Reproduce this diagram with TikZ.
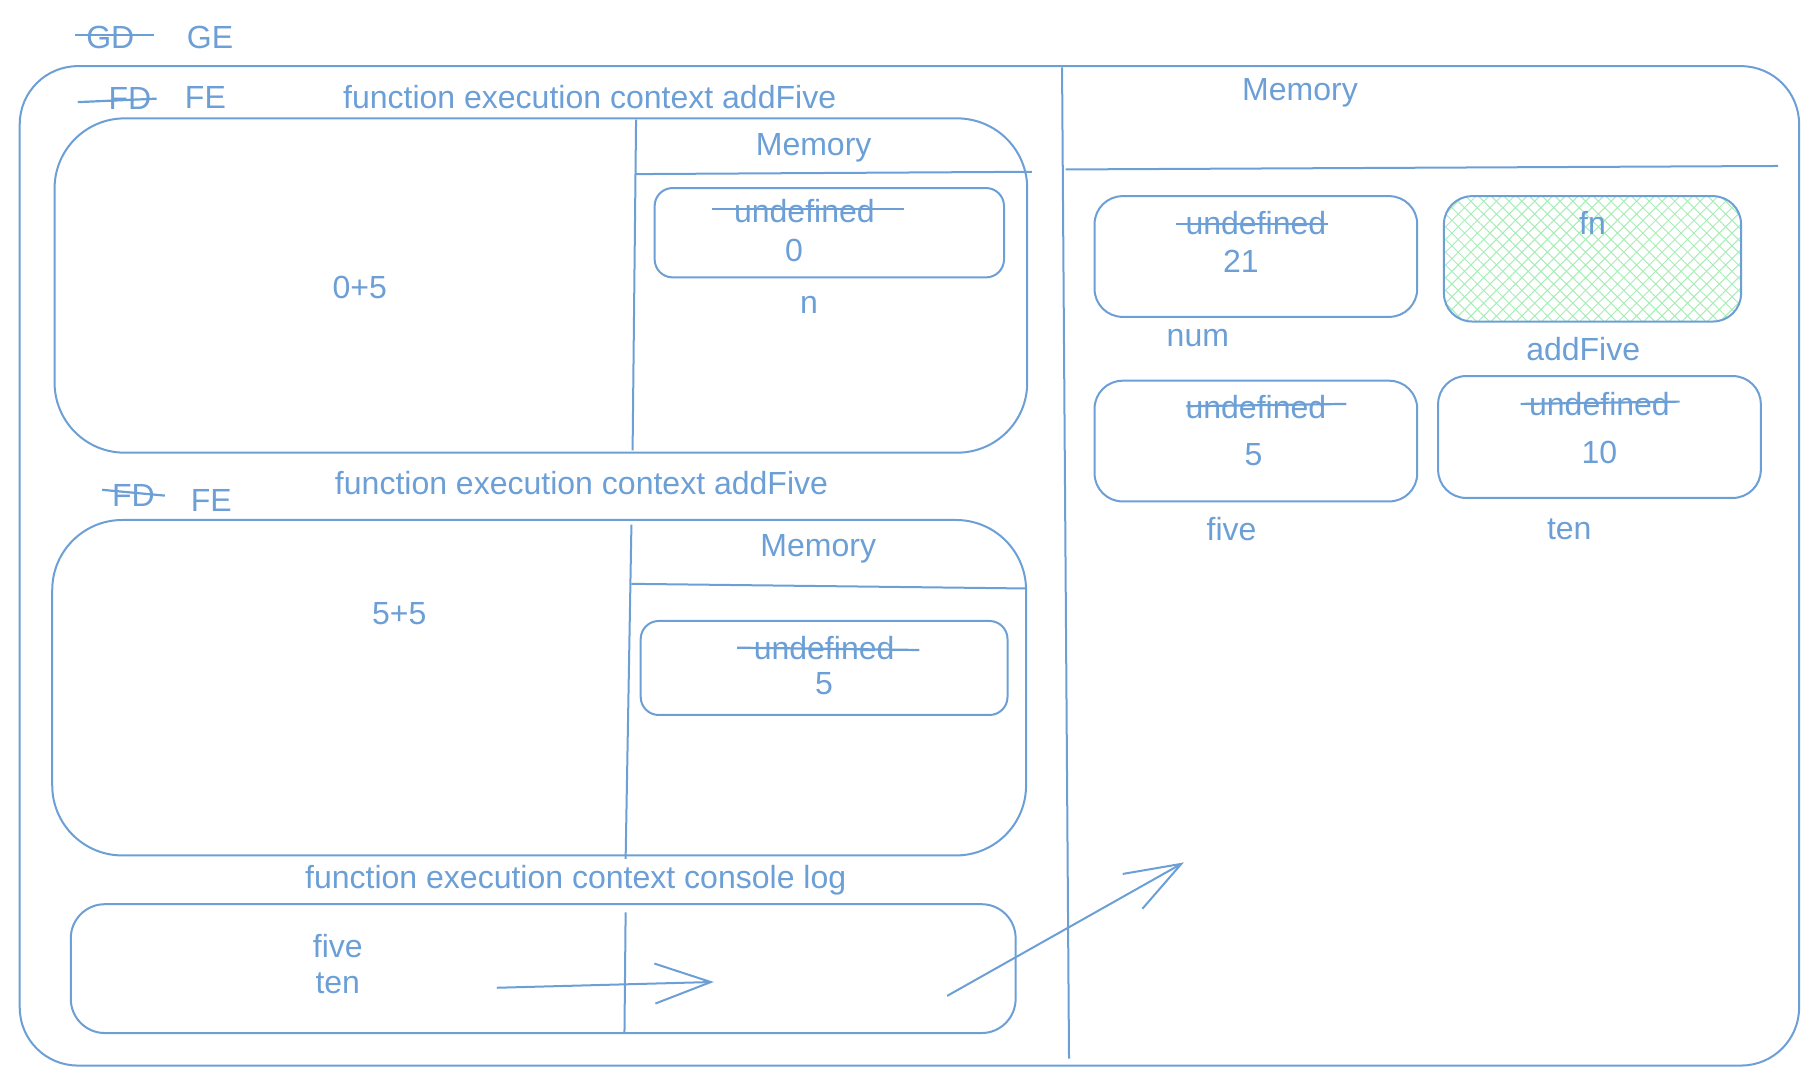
\documentclass[tikz,border=0pt]{standalone}
\usepackage{fontspec}
\setmainfont{Liberation Sans}
\usetikzlibrary{arrows.meta,patterns.meta}
\definecolor{blu}{HTML}{6C9FD6}
\definecolor{hgreen}{HTML}{A6EDB6}
\begin{document}
\begin{tikzpicture}[x=0.58pt,y=-0.58pt,
  lbl/.style={text=blu,font=\fontsize{16}{19}\selectfont,inner sep=0pt},
  ln/.style={draw=blu,line width=1pt},
  strike/.style={draw=blu,line width=1.1pt},
  arr/.style={ln,-{Straight Barb[length=28pt,width=20pt,line width=1pt]}}]
\useasboundingbox (0,0) rectangle (1568,936);

% header
\node[lbl] (gd) at (95,32) {GD};
\draw[strike] (65,30) -- (133,30);
\node[lbl] (ge) at (181,32) {GE};

% outer box
\draw[ln,rounded corners=29pt] (17,57) rectangle (1550,918);
\draw[ln] (915,58) -- (921,912);
\draw[ln] (918,146) -- (1532,143);
\node[lbl] (gmem) at (1120,80) {Memory};

% ---- first FE
\node[lbl] (fd1) at (112,85) {FD};
\draw[strike] (67,88) -- (135,85);
\node[lbl] (fe1) at (177,84) {FE};
\node[lbl] (t1) at (508,84) {function execution context addFive};
\draw[ln,rounded corners=35pt] (47,102) rectangle (885,390);
\draw[ln] (548,103) -- (545,388);
\draw[ln] (548,150) -- (889,148);
\node[lbl] (m1) at (701,127) {Memory};
\draw[ln,rounded corners=9pt] (564,162) rectangle (865,239);
\node[lbl] (u1) at (693,182) {undefined};
\draw[strike] (613,180) -- (779,180);
\node[lbl] (v1) at (684,216) {0};
\node[lbl] (n1) at (697,263) {n};
\node[lbl] (e1) at (310,248) {0+5};

% ---- second FE
\node[lbl] (fd2) at (115,427) {FD};
\draw[strike] (88,422) -- (142,427);
\node[lbl] (fe2) at (182,431) {FE};
\node[lbl] (t2) at (501,416) {function execution context addFive};
\draw[ln,rounded corners=35pt] (45,448) rectangle (884,737);
\draw[ln] (544,452) -- (539,740);
\draw[ln] (544,503) -- (884,507);
\node[lbl] (m2) at (705,473) {Memory};
\draw[ln,rounded corners=9pt] (552,535) rectangle (868,616);
\node[lbl] (u2) at (710,558) {undefined};
\draw[strike] (635,558) -- (792,560);
\node[lbl] (v2) at (710,589) {5};
\node[lbl] (e2) at (344,529) {5+5};

% ---- console log
\node[lbl] (t3) at (496,758) {function execution context console log};
\draw[ln,rounded corners=17pt] (61,779) rectangle (875,890);
\draw[ln] (539,786) -- (538,890);
\node[lbl] (c1) at (291,815) {five};
\node[lbl] (c2) at (291,847) {ten};

% arrows
\coordinate (a1s) at (428,851);
\coordinate (a1e) at (615,846);
\draw[arr] (a1s) -- (a1e);
\coordinate (a2s) at (816,858);
\coordinate (a2e) at (1020,743);
\draw[arr] (a2s) -- (a2e);

% ---- global memory
\draw[ln,rounded corners=14pt] (943,169) rectangle (1221,273);
\node[lbl] (u3) at (1082,192) {undefined};
\draw[strike] (1013,193) -- (1144,193);
\node[lbl] (v3) at (1069,225) {21};
\node[lbl] (num) at (1032,291) {num};

\fill[pattern={Lines[angle=45,distance=4.5pt,line width=0.5pt]},pattern color=hgreen,rounded corners=14pt] (1244,169) rectangle (1500,277);
\fill[pattern={Lines[angle=-45,distance=4.5pt,line width=0.5pt]},pattern color=hgreen,rounded corners=14pt] (1244,169) rectangle (1500,277);
\draw[ln,rounded corners=14pt] (1244,169) rectangle (1500,277);
\node[lbl] (fn) at (1372,192) {fn};
\node[lbl] (af) at (1364,301) {addFive};

\draw[ln,rounded corners=14pt] (943,328) rectangle (1221,432);
\node[lbl] (u4) at (1082,351) {undefined};
\draw[strike] (1022,350) -- (1160,348);
\node[lbl] (v4) at (1080,392) {5};
\node[lbl] (five) at (1061,456) {five};

\draw[ln,rounded corners=14pt] (1239,324) rectangle (1517,429);
\node[lbl] (u5) at (1378,348) {undefined};
\draw[strike] (1310,348) -- (1447,346);
\node[lbl] (v5) at (1378,390) {10};
\node[lbl] (ten) at (1352,456) {ten};
\end{tikzpicture}
\end{document}
